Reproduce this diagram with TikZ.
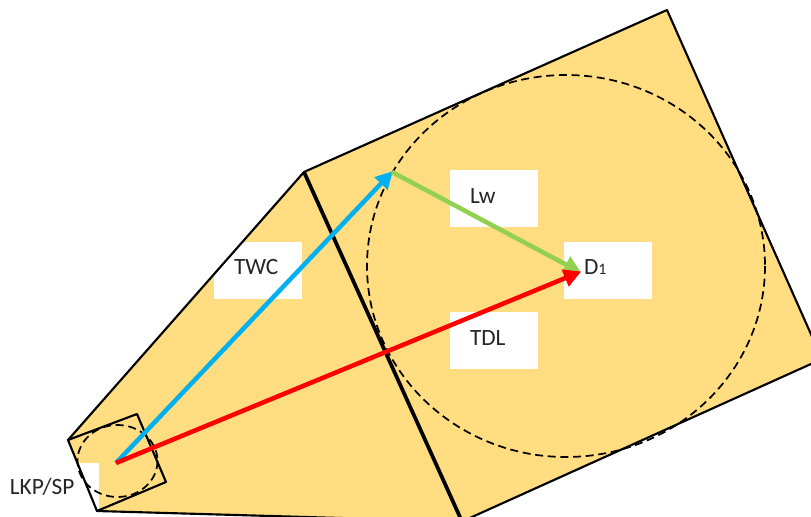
\documentclass[tikz,border=0pt]{standalone}
\usepackage{fontspec}
\setmainfont{Carlito}
\usetikzlibrary{arrows.meta,positioning}
\definecolor{sandfill}{HTML}{FFDD80}
\definecolor{twcblue}{HTML}{00B0F0}
\definecolor{lwgreen}{HTML}{92D050}
\tikzset{
    every node/.style={font=\fontsize{17.5}{20}\selectfont},
    white box/.style={fill=white,inner sep=0pt,minimum width=66pt,minimum height=42.75pt},
    tag/.style={inner sep=0pt,text=black!85},
    outline/.style={draw=black,line width=1.6pt,line join=round},
    ring/.style={draw=black,line width=1.3pt,dash pattern=on 6pt off 3.5pt},
    vector/.style={line width=3.4pt,-{Triangle[length=13pt,width=13pt]},shorten >=-1pt}
}

\begin{document}
\begin{tikzpicture}[
            x = 0.75pt, % one unit is a pixel of the reference
            y = -0.75pt
        ]

        \useasboundingbox (0,0) rectangle (811,517);
        \clip (0,0) rectangle (811,517);

        \coordinate (s1) at (68,440);
        \coordinate (s2) at (137,414);
        \coordinate (s3) at (166,482);
        \coordinate (s4) at (97,511);
        \coordinate (a) at (304,172);
        \coordinate (b) at (667,10);
        \coordinate (c) at (822,359);
        \coordinate (d) at (462,521.5);
        \coordinate (source) at (116,463);
        \coordinate (wall) at (392,172);
        \coordinate (target) at (580,272);

        \fill[sandfill] (s1) -- (a) -- (b) -- (c) -- (d) -- (s4) -- cycle;

        \node[white box] (twcbox) at (258,270.5) {};
        \node[white box] (lwbox) at (494,198.5) {};
        \node[white box] (dbox) at (608,270.5) {};
        \node[white box] (tdlbox) at (494,340.5) {};
        \node[white box] (lkpbox) at (55,491) {};

        \draw[outline] (s4) -- (d);
        \draw[outline] (s1) -- (a) -- (b) -- (c) -- (d);
        \draw[outline,line width=2.8pt] (a) -- (d);
        \draw[outline] (s1) -- (s2) -- (s3) -- (s4) -- cycle;

        \draw[ring] (566,266) ellipse [x radius=199,y radius=191];
        \draw[ring] (117.5,461) ellipse [x radius=40,y radius=36];

        \draw[vector,twcblue] (source) -- (wall);
        \draw[vector,lwgreen] (wall) -- (target);
        \draw[vector,red] (source) -- (target);

        \node[tag,right=15pt of twcbox.west,yshift=2.5pt] (twc) {TWC};
        \node[tag,right=15pt of lwbox.west,yshift=1.5pt] (lw) {Lw};
        \node[tag,right=15pt of tdlbox.west,yshift=2pt] (tdl) {TDL};
        \node[tag,right=15pt of dbox.west,yshift=2.5pt] (done) {D{\fontsize{12}{14}\selectfont 1}};
        \node[tag,right=-34pt of lkpbox.center,yshift=3pt] (lkp) {LKP/SP};

  \end{tikzpicture}
\end{document}
